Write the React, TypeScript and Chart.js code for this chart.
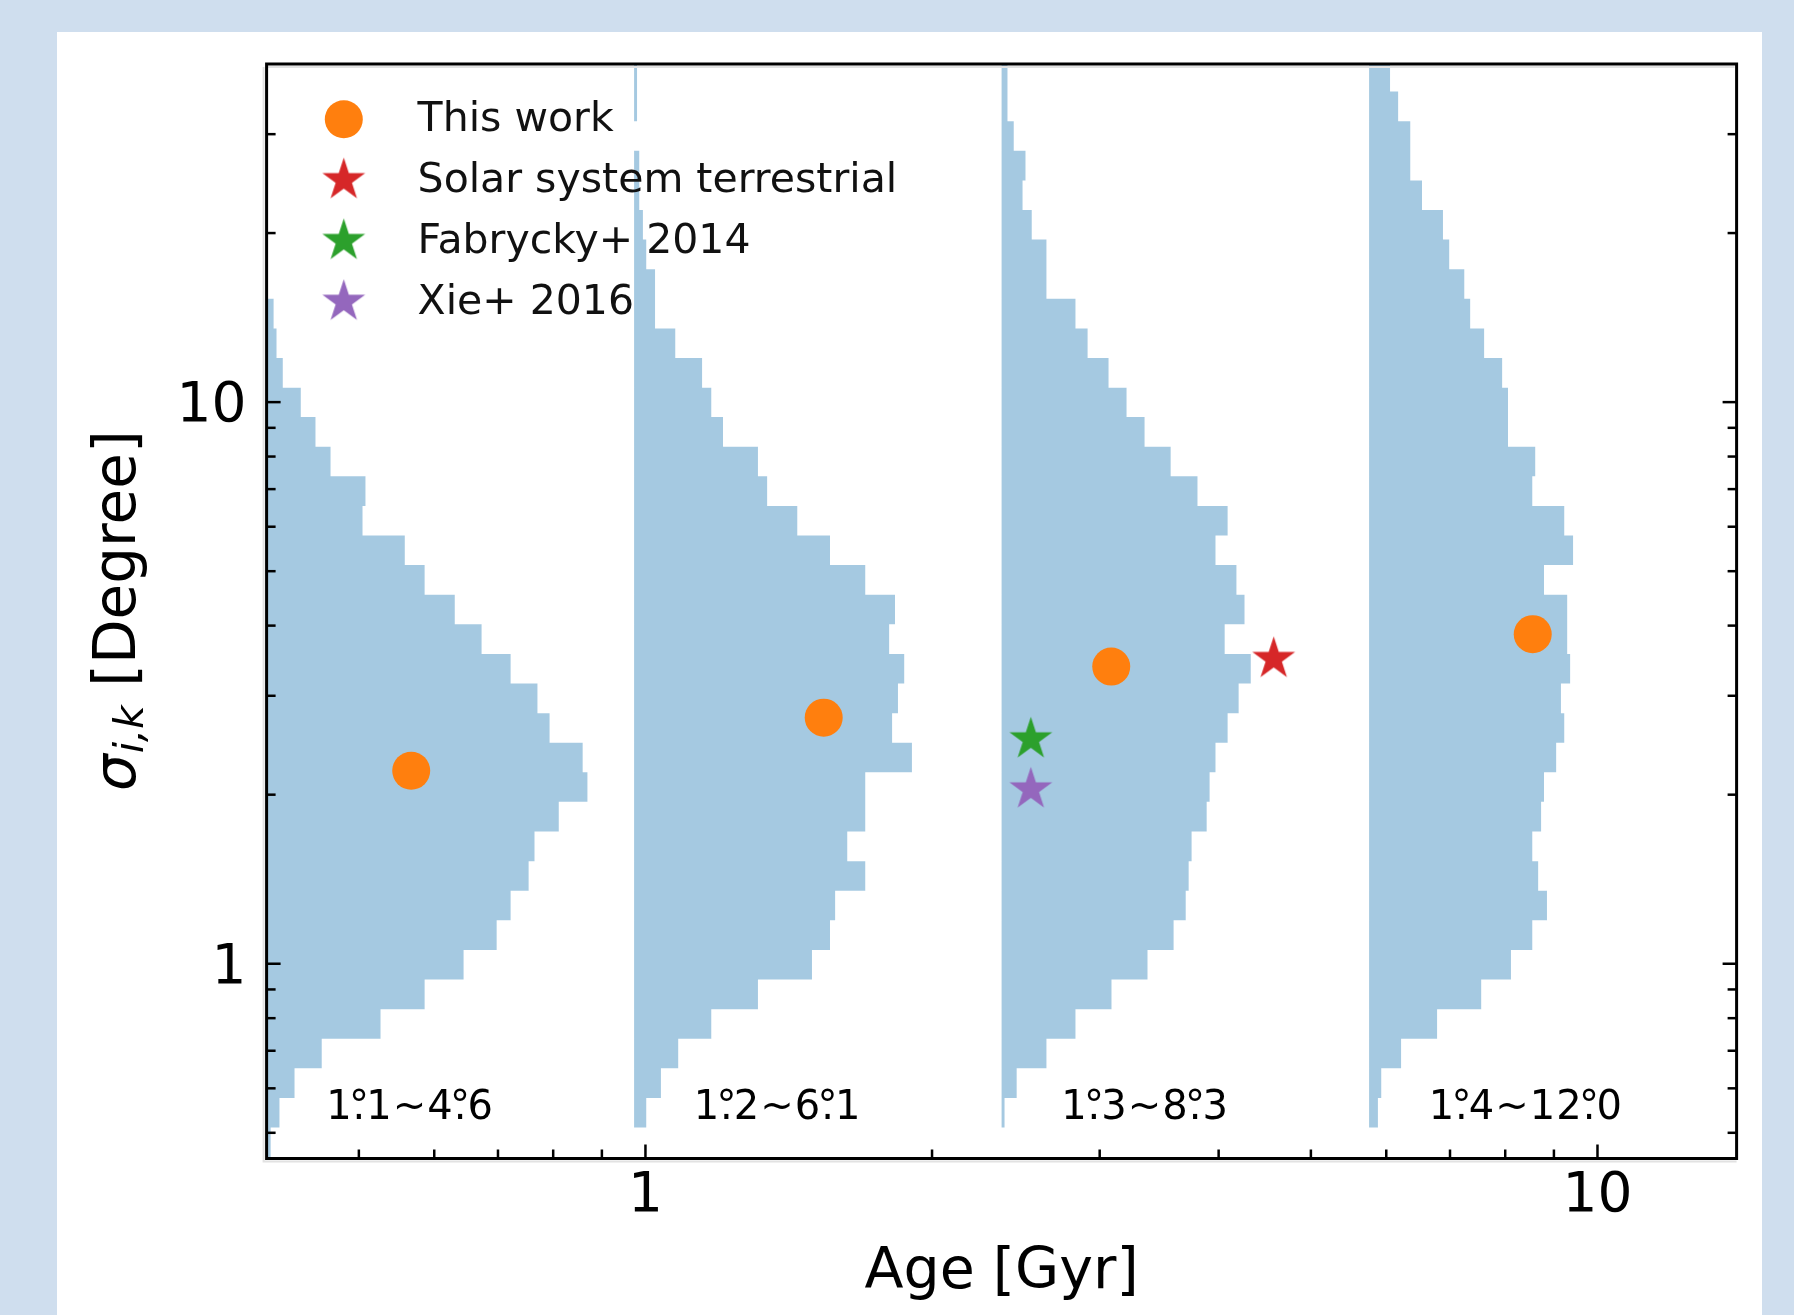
import React, { useEffect, useRef } from 'react';
import { Chart, registerables } from 'chart.js';

Chart.register(...registerables);

// ---- data ----
// log-spaced bin edges of sigma (degree), shared by the four histograms
const sigmaBinEdges = [
  0.4524, 0.5108, 0.5768, 0.6512, 0.7353, 0.8302, 0.9372, 1.058, 1.195, 1.349,
  1.523, 1.72, 1.942, 2.192, 2.475, 2.794, 3.155, 3.562, 4.022, 4.54,
  5.126, 5.788, 6.534, 7.377, 8.329, 9.404, 10.61, 11.98, 13.53, 15.28,
  17.25, 19.47, 21.98, 24.82, 28.02, 31.64, 35.72, 40.33,
];
// histogram baselines on the hidden panel axis (each panel is 100 units wide)
const histBase = [0, 100, 200, 300];
const histCounts1 = [
  1.1, 3.5, 7.6, 15.0, 31.0, 43.0, 53.6, 62.6, 66.4, 71.3, 72.9, 79.5, 87.3, 86.0, 77.0, 73.7,
  66.4, 58.5, 51.2, 43.0, 37.6, 26.1, 26.9, 17.4, 13.3, 9.3, 4.4, 2.7, 1.9, 0, 0, 0, 0, 0, 0, 0, 0,
];
const histCounts2 = [
  0, 3.3, 7.3, 12.0, 21.0, 33.7, 48.4, 53.3, 54.7, 62.9, 58.0, 62.9, 62.9, 75.6, 70.2, 71.8,
  73.5, 69.4, 71.0, 62.9, 53.3, 44.4, 36.2, 33.7, 24.2, 21.0, 18.5, 11.2, 5.7, 5.7, 3.3, 2.4,
  1.4, 1.4, 0, 0.8, 0.8,
];
const histCounts3 = [
  0, 0.8, 4.1, 12.2, 20.1, 29.9, 39.7, 46.8, 50.1, 50.9, 51.7, 55.8, 56.6, 58.2, 61.5, 64.5,
  67.8, 60.7, 66.1, 63.9, 58.2, 61.5, 53.3, 46.0, 38.9, 34.0, 29.1, 23.4, 20.1, 12.2, 12.2, 8.2,
  5.7, 6.5, 3.3, 1.6, 1.6,
];
const histCounts4 = [
  0, 2.4, 3.3, 8.7, 18.5, 30.5, 38.6, 44.4, 48.4, 46.0, 44.4, 46.8, 47.6, 50.9, 53.1, 52.2,
  54.7, 53.9, 53.9, 47.6, 55.5, 53.1, 44.4, 45.2, 37.8, 37.8, 36.2, 31.3, 27.5, 25.9, 21.8, 20.1,
  14.4, 11.2, 11.2, 7.9, 5.7,
];
const histLabels = ['1°.1~4°.6', '1°.2~6°.1', '1°.3~8°.3', '1°.4~12°.0'];

const thisWorkAge = [0.5675, 1.539, 3.085, 8.55];
const thisWorkSigma = [2.206, 2.743, 3.381, 3.862];
const solarAge = [4.57];
const solarSigma = [3.49];
const fabryckyAge = [2.54];
const fabryckySigma = [2.51];
const xieAge = [2.54];
const xieSigma = [2.044];

const seriesLabels = ['This work', 'Solar system terrestrial', 'Fabrycky+ 2014', 'Xie+ 2016'];

const xMajorTicks = [1, 10];
const xMinorTicks = [0.5, 0.6, 0.7, 0.8, 0.9, 2, 3, 4, 5, 6, 7, 8, 9];
const yMajorTicks = [1, 10];
const yMinorTicks = [0.5, 0.6, 0.7, 0.8, 0.9, 2, 3, 4, 5, 6, 7, 8, 9, 20, 30];

// ---- styling ----
const FONT = "'DejaVu Sans', 'Noto Sans', sans-serif";
const C_HIST = 'rgba(31,119,180,0.4)';
const C_ORANGE = '#ff7f0e';
const C_RED = '#d62728';
const C_GREEN = '#2ca02c';
const C_PURPLE = '#9467bd';
const STAR_R = 22.5;
const CIRCLE_R = 19;
const labelOffset = 16.2; // panel units from each histogram baseline
const labelSigma = 0.529;

function makeStar(color: string, R: number): HTMLCanvasElement {
  const size = Math.ceil(2 * R + 4);
  const c = document.createElement('canvas');
  c.width = size;
  c.height = size;
  const g = c.getContext('2d')!;
  g.translate(size / 2, size / 2);
  g.beginPath();
  for (let i = 0; i < 10; i++) {
    const r = i % 2 === 0 ? R : R * 0.381966;
    const ang = -Math.PI / 2 + (i * Math.PI) / 5;
    const px = r * Math.cos(ang);
    const py = r * Math.sin(ang);
    if (i === 0) g.moveTo(px, py);
    else g.lineTo(px, py);
  }
  g.closePath();
  g.fillStyle = color;
  g.fill();
  return c;
}

function histPolygon(counts: number[], base: number) {
  const pts: { x: number; y: number }[] = [{ x: base, y: sigmaBinEdges[0] }];
  counts.forEach((c, i) => {
    pts.push({ x: base + c, y: sigmaBinEdges[i] });
    pts.push({ x: base + c, y: sigmaBinEdges[i + 1] });
  });
  pts.push({ x: base, y: sigmaBinEdges[sigmaBinEdges.length - 1] });
  return pts;
}

function drawDegLabel(ctx: CanvasRenderingContext2D, text: string, x: number, y: number) {
  let cx = x;
  const gap = 1;
  for (let i = 0; i < text.length; i++) {
    const ch = text[i];
    if (ch === '°' && text[i + 1] === '.') {
      const wd = ctx.measureText('.').width;
      const wo = ctx.measureText('°').width;
      ctx.fillText('.', cx, y);
      ctx.fillText('°', cx + (wd - wo) / 2, y);
      cx += wd + gap;
      i++;
    } else {
      ctx.fillText(ch, cx, y);
      cx += ctx.measureText(ch).width + gap;
    }
  }
}

export default function App() {
  const ref = useRef<HTMLCanvasElement>(null);

  useEffect(() => {
    const canvas = ref.current!;
    const starRed = makeStar(C_RED, STAR_R);
    const starGreen = makeStar(C_GREEN, STAR_R);
    const starPurple = makeStar(C_PURPLE, STAR_R);
    const markerStyles: any[] = ['circle', starRed, starGreen, starPurple];
    const markerColors = [C_ORANGE, C_RED, C_GREEN, C_PURPLE];

    const decor = {
      id: 'decor',
      afterDraw(chart: any) {
        const { ctx, chartArea: a, scales } = chart;
        const xs = scales.x;
        const ys = scales.y;
        const x2 = scales.x2;
        ctx.save();
        // faint shadow lines along the frame, as in the reference
        ctx.strokeStyle = '#e2e2e2';
        ctx.lineWidth = 2;
        ctx.beginPath();
        ctx.moveTo(a.left - 3, a.top + 3);
        ctx.lineTo(a.left - 3, a.bottom + 3);
        ctx.lineTo(a.right, a.bottom + 3);
        ctx.moveTo(a.left, a.top + 3);
        ctx.lineTo(a.right - 2, a.top + 3);
        ctx.stroke();
        // frame
        ctx.strokeStyle = '#000';
        ctx.lineWidth = 3;
        ctx.strokeRect(a.left, a.top, a.right - a.left, a.bottom - a.top);
        // inward ticks
        const seg = (x1: number, y1: number, xx: number, yy: number) => {
          ctx.beginPath();
          ctx.moveTo(x1, y1);
          ctx.lineTo(xx, yy);
          ctx.stroke();
        };
        ctx.lineWidth = 2.5;
        xMajorTicks.forEach((v) => {
          const p = xs.getPixelForValue(v);
          seg(p, a.bottom, p, a.bottom - 14);
        });
        xMinorTicks.forEach((v) => {
          const p = xs.getPixelForValue(v);
          seg(p, a.bottom, p, a.bottom - 9);
        });
        yMajorTicks.forEach((v) => {
          const p = ys.getPixelForValue(v);
          seg(a.left, p, a.left + 14, p);
          seg(a.right, p, a.right - 14, p);
        });
        yMinorTicks.forEach((v) => {
          const p = ys.getPixelForValue(v);
          seg(a.left, p, a.left + 9, p);
          seg(a.right, p, a.right - 9, p);
        });

        // histogram range labels
        ctx.fillStyle = '#000';
        ctx.font = `40px ${FONT}`;
        ctx.textAlign = 'left';
        ctx.textBaseline = 'alphabetic';
        histLabels.forEach((t, i) => {
          drawDegLabel(ctx, t, x2.getPixelForValue(histBase[i] + labelOffset), ys.getPixelForValue(labelSigma));
        });

        // legend
        ctx.font = `41px ${FONT}`;
        seriesLabels.forEach((t, i) => {
          const my = a.top + 55.3 + i * 60.8;
          const mx = a.left + 77.2;
          const st = markerStyles[i];
          if (st === 'circle') {
            ctx.beginPath();
            ctx.arc(mx, my, CIRCLE_R, 0, Math.PI * 2);
            ctx.fillStyle = markerColors[i];
            ctx.fill();
          } else {
            ctx.drawImage(st, mx - st.width / 2, my - st.height / 2);
          }
          ctx.fillStyle = '#111';
          ctx.fillText(t, a.left + 151, my + 12);
        });

        // x title
        ctx.fillStyle = '#000';
        ctx.font = `57px ${FONT}`;
        ctx.textAlign = 'center';
        ctx.fillText('Age [Gyr]', (a.left + a.right) / 2, a.bottom + 129.5);

        // y title: sigma_{i,k} [Degree]
        ctx.save();
        ctx.translate(a.left - 131.6, (a.top + a.bottom) / 2);
        ctx.rotate(-Math.PI / 2);
        ctx.textAlign = 'left';
        const fMain = `58px ${FONT}`;
        const fIt = `italic 58px ${FONT}`;
        const fSub = `italic 41px ${FONT}`;
        ctx.font = fIt;
        const w1 = ctx.measureText('σ').width;
        ctx.font = fSub;
        const w2 = ctx.measureText('i,k').width;
        ctx.font = fMain;
        const w3 = ctx.measureText(' [Degree]').width;
        let sx = -(w1 + w2 + w3) / 2;
        ctx.font = fIt;
        ctx.fillText('σ', sx, 0);
        sx += w1 + 1;
        ctx.font = fSub;
        ctx.fillText('i,k', sx, 8);
        sx += w2;
        ctx.font = fMain;
        ctx.fillText(' [Degree]', sx, 0);
        ctx.restore();

        ctx.restore();
      },
    };

    const histDataset = (counts: number[], i: number) => ({
      type: 'line' as const,
      label: 'hist' + (i + 1),
      data: histPolygon(counts, histBase[i]),
      xAxisID: 'x2',
      yAxisID: 'y',
      borderWidth: 0,
      borderColor: 'rgba(0,0,0,0)',
      backgroundColor: C_HIST,
      pointRadius: 0,
      pointHoverRadius: 0,
      tension: 0,
      fill: 'shape',
      order: 10,
    });

    const pts = (xs: number[], ys: number[]) => xs.map((x, i) => ({ x, y: ys[i] }));

    const chart = new Chart(canvas, {
      type: 'scatter',
      data: {
        datasets: [
          {
            label: seriesLabels[0],
            data: pts(thisWorkAge, thisWorkSigma),
            pointStyle: 'circle',
            pointRadius: CIRCLE_R,
            backgroundColor: C_ORANGE,
            borderWidth: 0,
            xAxisID: 'x',
            yAxisID: 'y',
            order: 1,
          },
          {
            label: seriesLabels[1],
            data: pts(solarAge, solarSigma),
            pointStyle: starRed,
            pointRadius: STAR_R,
            backgroundColor: C_RED,
            borderWidth: 0,
            xAxisID: 'x',
            yAxisID: 'y',
            order: 1,
          },
          {
            label: seriesLabels[2],
            data: pts(fabryckyAge, fabryckySigma),
            pointStyle: starGreen,
            pointRadius: STAR_R,
            backgroundColor: C_GREEN,
            borderWidth: 0,
            xAxisID: 'x',
            yAxisID: 'y',
            order: 1,
          },
          {
            label: seriesLabels[3],
            data: pts(xieAge, xieSigma),
            pointStyle: starPurple,
            pointRadius: STAR_R,
            backgroundColor: C_PURPLE,
            borderWidth: 0,
            xAxisID: 'x',
            yAxisID: 'y',
            order: 1,
          },
          histDataset(histCounts1, 0),
          histDataset(histCounts2, 1),
          histDataset(histCounts3, 2),
          histDataset(histCounts4, 3),
        ] as any,
      },
      options: {
        animation: false,
        responsive: false,
        maintainAspectRatio: false,
        layout: { padding: { left: 0, top: 64, right: 57.4, bottom: 0 } },
        plugins: {
          legend: { display: false },
          tooltip: { enabled: false },
        },
        events: [],
        scales: {
          x: {
            type: 'logarithmic',
            position: 'bottom',
            min: 0.4,
            max: 14,
            grid: { display: false, drawTicks: false },
            border: { display: false },
            ticks: {
              color: '#000',
              font: { family: FONT, size: 55 },
              padding: 5,
              maxRotation: 0,
              autoSkip: false,
              callback: (v: any) => String(v),
            },
            afterBuildTicks: (s: any) => {
              s.ticks = xMajorTicks.map((v) => ({ value: v }));
            },
            afterFit: (s: any) => {
              s.height = 156.5;
            },
          },
          x2: {
            type: 'linear',
            display: false,
            min: 0,
            max: 400,
          },
          y: {
            type: 'logarithmic',
            position: 'left',
            min: 0.45,
            max: 40,
            grid: { display: false, drawTicks: false },
            border: { display: false },
            ticks: {
              color: '#000',
              font: { family: FONT, size: 55 },
              padding: 20,
              labelOffset: 5,
              autoSkip: false,
              callback: (v: any) => String(v),
            },
            afterBuildTicks: (s: any) => {
              s.ticks = yMajorTicks.map((v) => ({ value: v }));
            },
            afterFit: (s: any) => {
              s.width = 266.6;
            },
          },
        } as any,
      },
      plugins: [decor],
    });

    return () => chart.destroy();
  }, []);

  return (
    <div
      style={{
        position: 'absolute',
        left: 0,
        top: 0,
        width: 1794,
        height: 1315,
        background: '#cfdeee',
        overflow: 'hidden',
      }}
    >
      <div
        style={{ position: 'absolute', left: 57, top: 32, width: 1705, height: 1283, background: '#ffffff' }}
      />
      <canvas
        ref={ref}
        width={1794}
        height={1315}
        style={{ position: 'absolute', left: 0, top: 0, width: 1794, height: 1315 }}
      />
    </div>
  );
}
